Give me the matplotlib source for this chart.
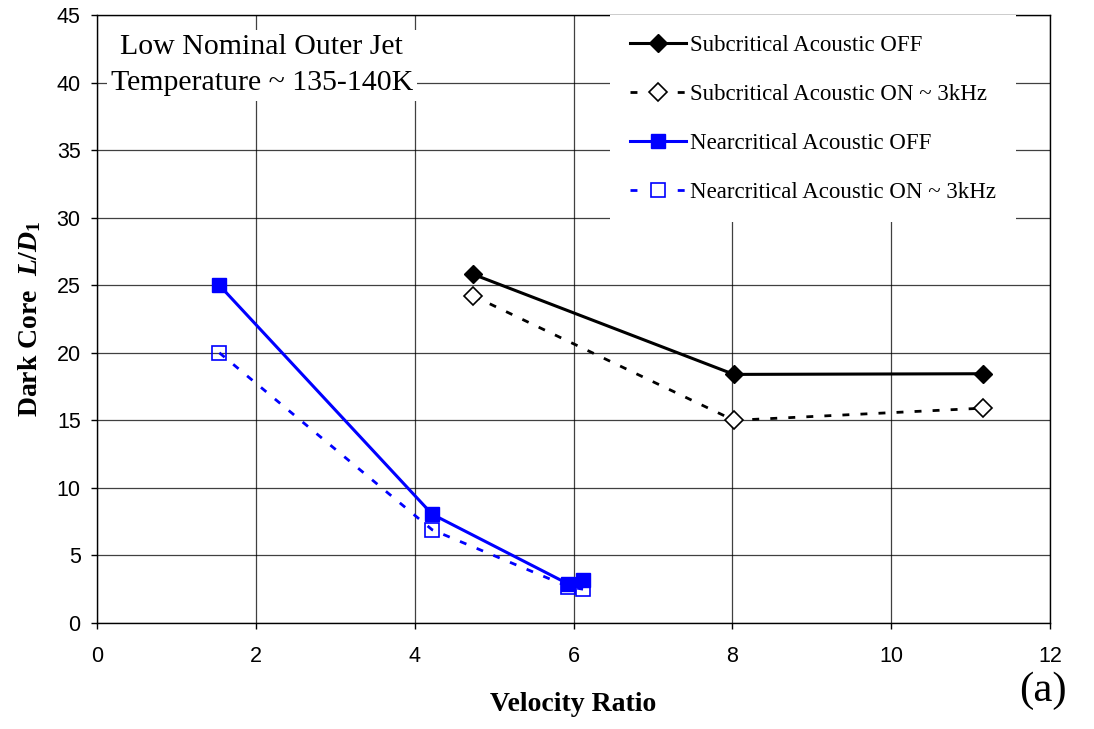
import matplotlib
matplotlib.use("Agg")
import matplotlib.pyplot as plt
from matplotlib.lines import Line2D

plt.rcParams['mathtext.fontset'] = 'custom'
plt.rcParams['mathtext.rm'] = 'Liberation Serif:bold'
plt.rcParams['mathtext.it'] = 'Liberation Serif:italic:bold'
plt.rcParams['mathtext.bf'] = 'Liberation Serif:bold'

# Data
sub_off_x = [4.74, 8.02, 11.15]
sub_off_y = [25.8, 18.4, 18.45]
sub_on_x = [4.74, 8.02, 11.15]
sub_on_y = [24.2, 15.0, 15.9]
near_off_x = [1.54, 4.22, 5.93, 6.12]
near_off_y = [25.0, 8.05, 2.9, 3.2]
near_on_x = [1.54, 4.22, 5.93, 6.12]
near_on_y = [20.0, 6.9, 2.7, 2.5]

labels = ['Subcritical Acoustic OFF', 'Subcritical Acoustic ON ~ 3kHz',
          'Nearcritical Acoustic OFF', 'Nearcritical Acoustic ON ~ 3kHz']

x_ticks = [0, 2, 4, 6, 8, 10, 12]
y_ticks = [0, 5, 10, 15, 20, 25, 30, 35, 40, 45]

serif = 'Liberation Serif'
sans = 'Liberation Sans'
blue = '#0000ff'

styles = [
    dict(color='black', lw=2.2, marker='D', ms=9.5, mfc='black', mec='black'),
    dict(color='black', lw=2.0, marker='D', ms=9.5, mfc='white', mec='black', mew=1.2),
    dict(color=blue, lw=2.2, marker='s', ms=10, mfc=blue, mec=blue),
    dict(color=blue, lw=2.0, marker='s', ms=10, mfc='none', mec=blue, mew=1.2),
]
line_ls = ['-', (0, (2.5, 4)), '-', (0, (2.5, 4))]
legend_ls = ['-', (0, (2.5, 14.5)), '-', (0, (2.5, 14.5))]

fig = plt.figure(figsize=(10.94, 7.29), dpi=100)
ax = fig.add_axes([0.0887, 0.1454, 0.8711, 0.834])

series = [(sub_off_x, sub_off_y), (sub_on_x, sub_on_y),
          (near_off_x, near_off_y), (near_on_x, near_on_y)]
for (xs, ys), st, ls in zip(series, styles, line_ls):
    ax.plot(xs, ys, ls=ls, zorder=4, **st)

ax.set_xlim(0, 12)
ax.set_ylim(0, 45)
ax.set_xticks(x_ticks)
ax.set_yticks(y_ticks)
ax.tick_params(direction='out', length=4.3, width=1, labelsize=15.5, color='black')
ax.tick_params(axis='x', pad=12.5)
ax.tick_params(axis='y', pad=7.5)
for lbl in ax.get_xticklabels() + ax.get_yticklabels():
    lbl.set_fontfamily(sans)
ax.grid(True, color='black', lw=0.9, alpha=0.75)
ax.set_axisbelow(True)
for spine in ax.spines.values():
    spine.set_color('black')
    spine.set_linewidth(1)

ax.set_xlabel('Velocity Ratio', fontsize=20, fontweight='bold', family=serif, labelpad=18)
ax.set_ylabel(r'Dark Core  $\mathit{L/D_1}$', fontsize=20, fontweight='bold', family=serif, labelpad=10)

ax.text(0.173, 0.917, 'Low Nominal Outer Jet\nTemperature ~ 135-140K', transform=ax.transAxes,
        ha='center', va='center', fontsize=21.5, family=serif, linespacing=1.5,
        bbox=dict(facecolor='white', edgecolor='none', pad=3), zorder=5)

handles = [Line2D([], [], ls=ls, **st) for st, ls in zip(styles, legend_ls)]
leg = ax.legend(handles, labels, loc='upper right', bbox_to_anchor=(0.964, 1.0),
                prop={'family': serif, 'size': 16.5},
                frameon=True, fancybox=False, edgecolor='none', facecolor='white', framealpha=1,
                handlelength=2.45, handletextpad=0.2, labelspacing=1.22, borderpad=0.85,
                borderaxespad=0.0)
leg.set_zorder(6)

fig.text(0.932, 0.052, '(a)', fontsize=31, family=serif, ha='left', va='center')

fig.savefig('out.png', dpi=100)
